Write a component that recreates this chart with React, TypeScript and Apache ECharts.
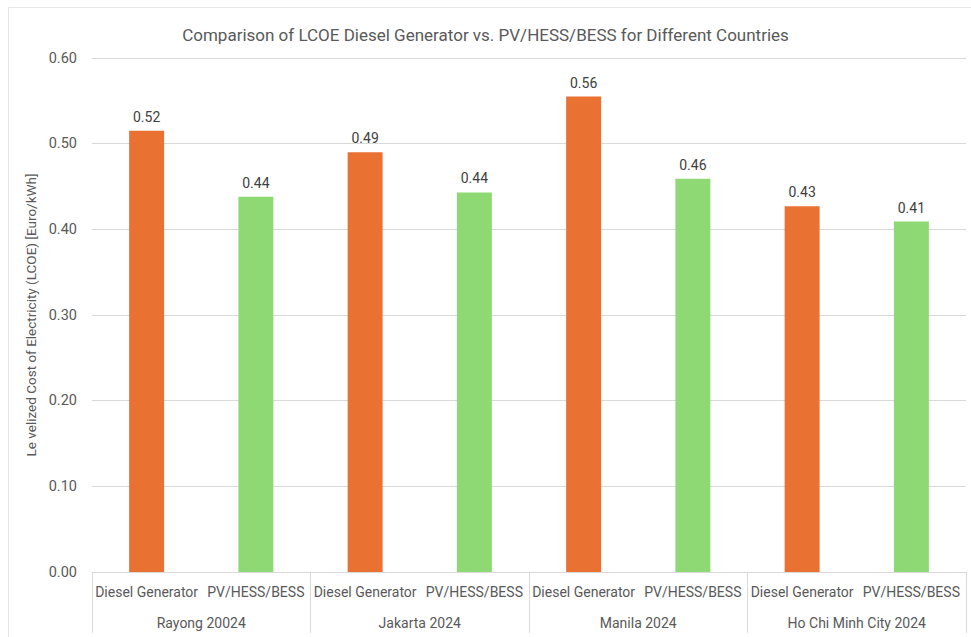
import React, { useEffect, useRef } from "react";
import * as echarts from "echarts";

const technologies = ["Diesel Generator", "PV/HESS/BESS", "Diesel Generator", "PV/HESS/BESS", "Diesel Generator", "PV/HESS/BESS", "Diesel Generator", "PV/HESS/BESS"];
const locations = ["Rayong 20024", "Jakarta 2024", "Manila 2024", "Ho Chi Minh City 2024"];
const lcoeValues = [0.515, 0.438, 0.49, 0.443, 0.555, 0.459, 0.427, 0.409];
const yTicks = { min: 0, max: 0.6, interval: 0.1 };

const ORANGE = "#E97132";
const GREEN = "#8ED973";
const FONT = "Roboto, 'Liberation Sans', sans-serif";

export default function App() {
  const ref = useRef<HTMLDivElement>(null);
  useEffect(() => {
    if (!ref.current) return;
    const chart = echarts.init(ref.current, undefined, { renderer: "svg" });
    chart.setOption({
      animation: false,
      backgroundColor: "#ffffff",
      title: {
        text: "Comparison of LCOE Diesel Generator vs. PV/HESS/BESS for Different Countries",
        left: "center",
        top: 21,
        textStyle: { fontFamily: FONT, fontSize: 17, fontWeight: "normal", color: "#595959" },
      },
      graphic: [
        {
          type: "rect",
          shape: { x: 8.5, y: 7.5, width: 1000, height: 700 },
          style: { fill: "none", stroke: "#e6e6e6", lineWidth: 1 },
          silent: true,
          z: -1,
        },
      ],
      grid: { left: 92, right: 5, top: 58, bottom: 65, containLabel: false },
      xAxis: [
        {
          type: "category",
          data: technologies,
          axisLine: { lineStyle: { color: "#d9d9d9" } },
          axisTick: { show: false },
          axisLabel: { interval: 0, margin: 13, fontFamily: FONT, fontSize: 14, color: "#595959" },
        },
        {
          type: "category",
          position: "bottom",
          data: locations,
          axisLine: { show: false },
          axisTick: { show: true, length: 61, lineStyle: { color: "#d9d9d9" } },
          axisLabel: { interval: 0, margin: 44, fontFamily: FONT, fontSize: 14, color: "#595959" },
        },
      ],
      yAxis: {
        type: "value",
        min: yTicks.min,
        max: yTicks.max,
        interval: yTicks.interval,
        name: "Le velized Cost of Electricity (LCOE) [Euro/kWh]",
        nameLocation: "middle",
        nameGap: 53,
        nameTextStyle: { fontFamily: FONT, fontSize: 13.5, color: "#595959" },
        axisLabel: {
          margin: 15,
          formatter: (v: number) => v.toFixed(2),
          fontFamily: FONT,
          fontSize: 14.5,
          color: "#595959",
        },
        splitLine: { lineStyle: { color: "#d9d9d9" } },
        axisLine: { show: false },
        axisTick: { show: false },
      },
      series: [
        {
          type: "bar",
          xAxisIndex: 0,
          barWidth: "32%",
          data: lcoeValues.map((v, i) => ({ value: v, itemStyle: { color: i % 2 === 0 ? ORANGE : GREEN } })),
          label: {
            show: true,
            position: "top",
            distance: 7,
            formatter: (p: any) => p.value.toFixed(2),
            fontFamily: FONT,
            fontSize: 14,
            color: "#404040",
          },
        },
      ],
    });
    return () => chart.dispose();
  }, []);
  return <div ref={ref} style={{ position: "absolute", left: 0, top: 0, width: 971, height: 637 }} />;
}
